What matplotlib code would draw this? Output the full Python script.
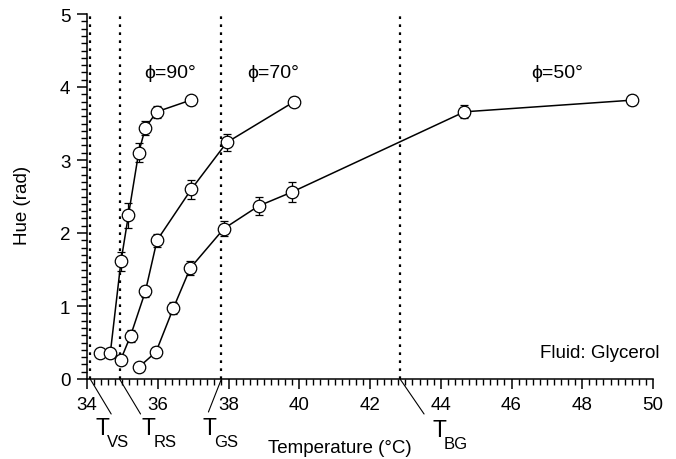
import matplotlib
matplotlib.use("Agg")
import matplotlib.pyplot as plt
from matplotlib.ticker import MultipleLocator

plt.rcParams['font.family'] = ['Liberation Sans', 'DejaVu Sans']

# ---- data ----
t90 = [34.38, 34.66, 34.96, 35.17, 35.46, 35.65, 35.97, 36.93]
h90 = [0.36, 0.36, 1.61, 2.24, 3.10, 3.44, 3.66, 3.82]
e90 = [0.03, 0.07, 0.13, 0.17, 0.13, 0.10, 0.08, 0.06]

t70 = [34.95, 35.23, 35.65, 35.98, 36.95, 37.95, 39.86]
h70 = [0.26, 0.59, 1.20, 1.90, 2.60, 3.24, 3.80]
e70 = [0.05, 0.08, 0.08, 0.09, 0.13, 0.12, 0.06]

t50 = [35.46, 35.95, 36.44, 36.92, 37.87, 38.85, 39.79, 44.67, 49.42]
h50 = [0.16, 0.37, 0.97, 1.52, 2.06, 2.37, 2.56, 3.66, 3.82]
e50 = [0.03, 0.07, 0.08, 0.10, 0.10, 0.13, 0.14, 0.09, 0.07]

trans_T = [34.09, 34.92, 37.80, 42.85]
trans_names = ['VS', 'RS', 'GS', 'BG']
# leader offsets in pixels (dx, dy)
leader = [(21, -35), (21, -35), (-13, -33), (24, -35)]

phi_labels = ['\u03d5=90\u00b0', '\u03d5=70\u00b0', '\u03d5=50\u00b0']
phi_x = [36.35, 39.26, 47.29]
phi_y = [4.2, 4.2, 4.2]

xticks = [34, 36, 38, 40, 42, 44, 46, 48, 50]
yticks = [0, 1, 2, 3, 4, 5]

FS = 13.5

fig = plt.figure(figsize=(6.76, 4.60), dpi=100)
ax = fig.add_axes([87/676, 80/460, 566/676, 365/460])

for T in trans_T:
    ax.axvline(T, color='black', lw=1.6, linestyle=(0, (1.2, 2.4)), zorder=1)

for t, h, e in [(t90, h90, e90), (t70, h70, e70), (t50, h50, e50)]:
    ax.errorbar(t, h, yerr=e, color='black', lw=1.1, elinewidth=0.9,
                capsize=3, capthick=0.9, marker='o', markersize=9,
                markerfacecolor='white', markeredgecolor='black',
                markeredgewidth=0.9, zorder=3)

for lab, x, y in zip(phi_labels, phi_x, phi_y):
    ax.text(x, y, lab, ha='center', va='center', fontsize=14,
            family=['Liberation Sans', 'DejaVu Sans'])

ax.text(1.012, 0.073, 'Fluid: Glycerol', transform=ax.transAxes,
        ha='right', va='center', fontsize=FS)

for T, name, (dx, dy) in zip(trans_T, trans_names, leader):
    ax.annotate('', xy=(T, 0), xytext=(dx, dy), textcoords='offset pixels',
                arrowprops=dict(arrowstyle='-', lw=0.8, color='black',
                                shrinkA=0, shrinkB=0),
                annotation_clip=False)

# T labels (T plus subscript)
lab_pos = [(95, 435, 106.5, 447), (141.5, 435, 153.5, 447),
           (202, 435, 214, 447), (432, 437, 444, 449)]
for name, (tx, ty, sx, sy) in zip(trans_names, lab_pos):
    fig.text(tx/676, 1 - ty/460, 'T', fontsize=16.5, ha='left', va='baseline')
    fig.text(sx/676, 1 - sy/460, name, fontsize=12, ha='left', va='baseline')

ax.set_xlim(34, 50)
ax.set_ylim(0, 5)
ax.set_xticks(xticks)
ax.set_yticks(yticks)
ax.xaxis.set_minor_locator(MultipleLocator(0.2))
ax.yaxis.set_minor_locator(MultipleLocator(0.1))
ax.tick_params(which='major', direction='out', length=7, width=1.1, labelsize=FS, pad=5)
ax.tick_params(which='minor', direction='out', length=4, width=1.0)
for s in ['top', 'right']:
    ax.spines[s].set_visible(False)
for s in ['left', 'bottom']:
    ax.spines[s].set_linewidth(1.1)

ax.set_xlabel('Temperature (\u00b0C)', fontsize=FS)
ax.xaxis.set_label_coords((340 - 87) / 566, (380 - 449) / 365)
ax.set_ylabel('Hue (rad)', fontsize=FS)
ax.yaxis.set_label_coords(-(87 - 22) / 566, (380 - 205) / 365)
ax.xaxis.label.set_va('center')
ax.yaxis.label.set_va('center')

fig.savefig('out.png', dpi=100)
